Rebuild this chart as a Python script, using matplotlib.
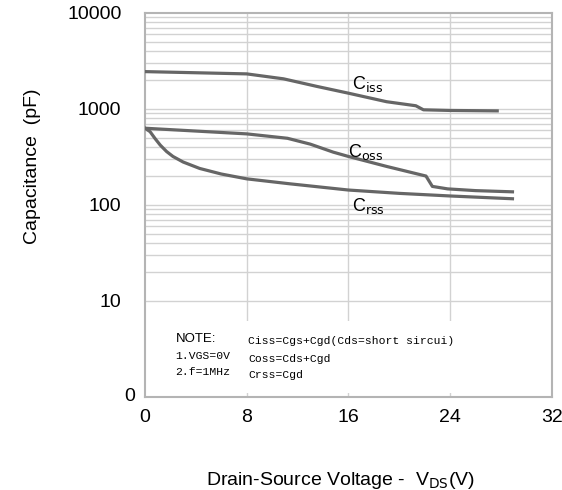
import matplotlib
matplotlib.use('Agg')
import matplotlib.pyplot as plt
from matplotlib.patches import Rectangle
import matplotlib.transforms as mtransforms

plt.rcParams['font.family'] = ['Liberation Sans', 'DejaVu Sans']

# ─── data ───
ciss_v = [0, 8, 10.9, 13.5, 16, 19.0, 21.3, 21.9, 24, 27.7]
ciss_c = [2450, 2320, 2060, 1720, 1460, 1190, 1080, 980, 965, 955]

coss_v = [0, 8, 11.2, 13.0, 14.8, 16, 19.0, 22.1, 22.6, 23.8, 26, 28.9]
coss_c = [630, 550, 495, 430, 355, 320, 252, 200, 156, 147, 141, 137]

crss_v = [0, 0.4, 0.8, 1.2, 1.7, 2.2, 3.0, 4.3, 6, 8, 11.4, 16, 20, 24, 28.9]
crss_c = [630, 580, 490, 420, 360, 320, 280, 240, 210, 187, 166, 143, 132, 124, 116]

x_ticks = [0, 8, 16, 24, 32]
y_ticks = [10, 100, 1000, 10000]
y_labels = ['10', '100', '1000', '10000']

curve_col = '#666666'
grid_col = '#d2d2d2'
frame_col = '#b4b4b4'

fig = plt.figure(figsize=(5.62, 4.90), dpi=100)
ax = fig.add_axes([0.258, 0.19, 0.724, 0.7835])
ax.set_yscale('log')
ax.set_xlim(0, 32)
ax.set_ylim(1, 10000)

# grid: horizontal only from 10 up, vertical at the x ticks
grid_vals = [m * 10 ** e for e in range(1, 4) for m in range(1, 10)]
ax.hlines(grid_vals, 0, 32, color=grid_col, lw=1, zorder=0.5)
ax.vlines(x_ticks[1:-1], 1, 10000, color=grid_col, lw=1, zorder=0.5)

# white box for the note (hides the grid there)
ax.add_patch(Rectangle((0.004, 0.009), 0.992, 0.19, transform=ax.transAxes,
                       facecolor='white', edgecolor='none', zorder=1))

ax.plot(ciss_v, ciss_c, color=curve_col, lw=2.3, zorder=3)
ax.plot(coss_v, coss_c, color=curve_col, lw=2.3, zorder=3)
ax.plot(crss_v, crss_c, color=curve_col, lw=2.3, zorder=3)

ax.text(16.3, 1800, r'C$_{\rm iss}$', fontsize=13, ha='left', va='center', zorder=4)
ax.text(16.0, 355, r'C$_{\rm oss}$', fontsize=13, ha='left', va='center', zorder=4)
ax.text(16.3, 98, r'C$_{\rm rss}$', fontsize=13, ha='left', va='center', zorder=4)

# note text
note_kw = dict(fontsize=8.2, family='Liberation Mono', ha='left', va='center', zorder=4)
ax.text(2.4, 4.0, 'NOTE:', fontsize=9.5, ha='left', va='center', zorder=4)
ax.text(2.4, 2.65, '1.VGS=0V', **note_kw)
ax.text(2.4, 1.8, '2.f=1MHz', **note_kw)
ax.text(8.1, 3.8, 'Ciss=Cgs+Cgd(Cds=short sircui)', **note_kw)
ax.text(8.1, 2.5, 'Coss=Cds+Cgd', **note_kw)
ax.text(8.1, 1.7, 'Crss=Cgd', **note_kw)

for s in ax.spines.values():
    s.set_color(frame_col)
    s.set_linewidth(1.5)

ax.set_xticks(x_ticks)
ax.set_xticklabels([str(v) for v in x_ticks], fontsize=14)
ax.set_yticks(y_ticks)
ax.set_yticklabels(y_labels, fontsize=14)
ax.minorticks_off()
ax.tick_params(axis='both', length=0)
ax.tick_params(axis='y', pad=17)
ax.tick_params(axis='x', pad=9)

# the bottom "0" label of the log axis
trans = mtransforms.blended_transform_factory(fig.transFigure, ax.transData)
ax.text(135 / 562, 1, '0', fontsize=14, ha='right', va='center', transform=trans)

ax.set_ylabel('Capacitance  (pF)', fontsize=14)
ax.yaxis.set_label_coords(-0.255, 0.6)
fig.text(340 / 562, 1 - 480 / 490, r'Drain-Source Voltage -  V$_{\rm DS}$(V)',
         fontsize=14, ha='center', va='center')

fig.savefig('out.png', dpi=100)
